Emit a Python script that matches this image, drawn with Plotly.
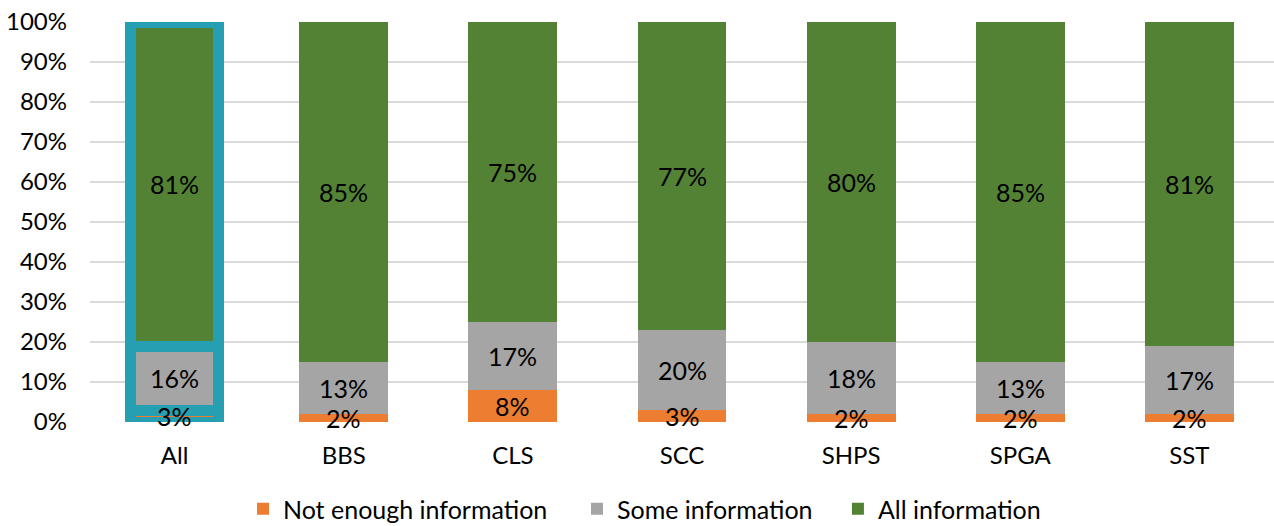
import plotly.graph_objects as go

categories = ["All", "BBS", "CLS", "SCC", "SHPS", "SPGA", "SST"]
not_enough = [3, 2, 8, 3, 2, 2, 2]
some_info = [16, 13, 17, 20, 18, 13, 17]
all_info = [81, 85, 75, 77, 80, 85, 81]
y_ticks = [0, 10, 20, 30, 40, 50, 60, 70, 80, 90, 100]

FONT = "Lato, Carlito, Calibri, sans-serif"
HIGHLIGHT = "#269FB2"

# The first category ("All") is outlined to set it apart from the groups
line_w = [11 if c == "All" else 0 for c in categories]

series = [
    ("Not enough information", not_enough, "#ED7D31", "legend", 0.1292),
    ("Some information", some_info, "#A5A5A5", "legend2", 0.4113),
    ("All information", all_info, "#548235", "legend3", 0.6317),
]

fig = go.Figure()
base = [0] * len(categories)
labels = []
legend_layout = {}
for name, vals, color, leg, leg_x in series:
    fig.add_trace(go.Bar(
        name=name,
        x=categories,
        y=vals,
        marker=dict(color=color, line=dict(color=HIGHLIGHT, width=line_w)),
        showlegend=False,
        hoverinfo="x+y+name",
    ))
    # legend swatch without the highlight outline
    fig.add_trace(go.Bar(
        name=name,
        x=[categories[0]],
        y=[0],
        marker=dict(color=color, line=dict(width=0)),
        showlegend=True,
        legend=leg,
        hoverinfo="skip",
    ))
    legend_layout[leg] = dict(
        orientation="h",
        x=leg_x, xanchor="left",
        y=-0.2175, yanchor="middle",
        font=dict(family=FONT, size=25, color="#000000"),
        bgcolor="rgba(0,0,0,0)",
        itemwidth=30,
    )
    for i, v in enumerate(vals):
        labels.append((categories[i], base[i] + v / 2, f"{v}%"))
        base[i] += v

# value labels drawn on top of every segment (and of the outline)
for cat, yc, txt in labels:
    fig.add_annotation(
        x=cat, y=yc, text=txt,
        showarrow=False,
        xanchor="center", yanchor="middle",
        font=dict(family=FONT, size=25, color="#000000"),
    )

fig.update_layout(
    barmode="stack",
    bargap=0.475,
    width=1274,
    height=526,
    margin=dict(l=90, r=0, t=22, b=104, autoexpand=False),
    plot_bgcolor="white",
    paper_bgcolor="white",
    font=dict(family=FONT, size=24, color="#000000"),
    **legend_layout,
)

fig.update_yaxes(
    range=[0, 100],
    tickvals=y_ticks,
    ticktext=[f"{v}%" for v in y_ticks],
    showgrid=True,
    gridcolor="#D9D9D9",
    gridwidth=1.5,
    zeroline=False,
    showline=False,
    automargin=False,
    ticklabelstandoff=22,
    tickfont=dict(family=FONT, size=24),
)
fig.update_xaxes(
    showline=False,
    ticks="",
    automargin=False,
    ticklabelstandoff=17,
    tickfont=dict(family=FONT, size=24),
)

fig.write_html("out.html")
